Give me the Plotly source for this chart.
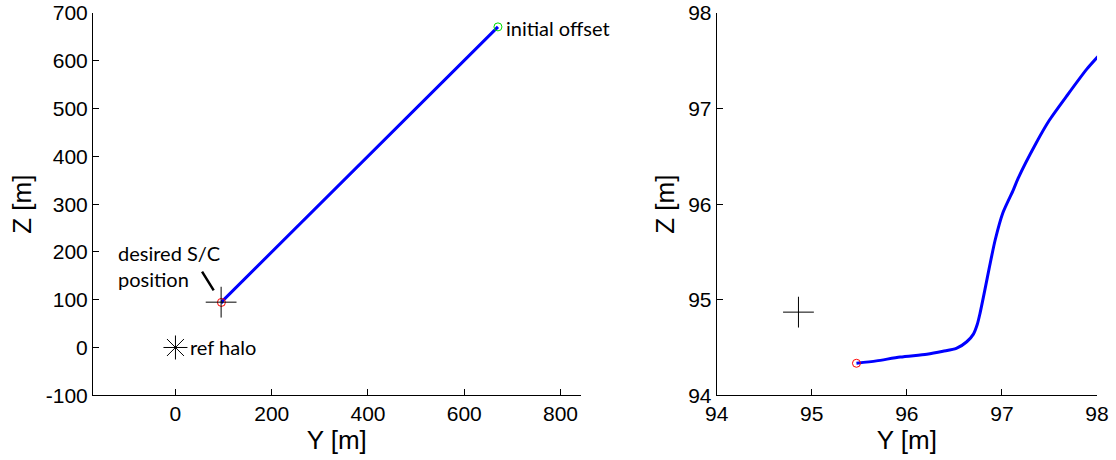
import plotly.graph_objects as go
from plotly.subplots import make_subplots

# Trajectory (Y, Z) in metres, from the end (desired position) back to the initial offset
traj_y = [95.47, 95.68, 95.93, 96.21, 96.38, 96.52, 96.63, 96.70, 96.74, 96.77, 96.82,
          96.87, 96.93, 97.01, 97.12, 97.17, 97.36, 97.50, 97.68, 97.89, 98.01,
          99.0, 670.0]
traj_z = [94.335, 94.36, 94.40, 94.43, 94.46, 94.49, 94.56, 94.64, 94.74, 94.86, 95.10,
          95.35, 95.63, 95.91, 96.15, 96.27, 96.64, 96.88, 97.13, 97.41, 97.545,
          98.6, 671.0]

initial_offset = (670.0, 671.0)
final_position = (95.47, 94.335)
desired_position = (94.86, 94.87)
ref_halo = (0.0, 0.0)

left_xticks = [0, 200, 400, 600, 800]
left_yticks = [-100, 0, 100, 200, 300, 400, 500, 600, 700]
left_yticklabels = ["-100", "0", "100", "200", "300", "400", "500", "600", "700"]
right_ticks = [94, 95, 96, 97, 98]

fig = make_subplots(rows=1, cols=2)

for col in (1, 2):
    fig.add_trace(go.Scatter(x=traj_y, y=traj_z, mode="lines",
                             line=dict(color="#0000FF", width=3, shape="spline", smoothing=0.7),
                             showlegend=False, hoverinfo="skip"), row=1, col=col)
    fig.add_trace(go.Scatter(x=[final_position[0]], y=[final_position[1]], mode="markers",
                             marker=dict(symbol="circle-open", size=8,
                                         line=dict(color="#FF0000", width=1), color="#FF0000"),
                             showlegend=False), row=1, col=col)
    fig.add_trace(go.Scatter(x=[desired_position[0]], y=[desired_position[1]], mode="markers",
                             marker=dict(symbol="cross-thin-open", size=22,
                                         line=dict(color="#000000", width=1), color="#000000"),
                             showlegend=False), row=1, col=col)

fig.add_trace(go.Scatter(x=[initial_offset[0]], y=[initial_offset[1]], mode="markers",
                         marker=dict(symbol="circle-open", size=8,
                                     line=dict(color="#00DD00", width=1), color="#00DD00"),
                         showlegend=False), row=1, col=1)
fig.add_trace(go.Scatter(x=[ref_halo[0]], y=[ref_halo[1]], mode="markers",
                         marker=dict(symbol="asterisk-open", size=20,
                                     line=dict(color="#000000", width=1), color="#000000"),
                         showlegend=False), row=1, col=1)

ann_font = dict(family="Lato, 'Open Sans', sans-serif", size=20, color="#000000")
fig.add_annotation(x=initial_offset[0], y=initial_offset[1], xref="x", yref="y",
                   text="initial offset", showarrow=False, xanchor="left", yanchor="middle",
                   xshift=6, yshift=-1, font=ann_font)
fig.add_annotation(x=ref_halo[0], y=ref_halo[1], xref="x", yref="y",
                   text="ref halo", showarrow=False, xanchor="left", yanchor="middle",
                   xshift=13, font=ann_font)
fig.add_annotation(x=desired_position[0], y=desired_position[1], xref="x", yref="y",
                   text="desired S/C<br>position", showarrow=False, xanchor="left",
                   yanchor="middle", align="left", xshift=-105, yshift=36, font=ann_font)
fig.add_annotation(x=desired_position[0], y=desired_position[1], xref="x", yref="y",
                   text="", showarrow=True, arrowhead=0, arrowwidth=2.5, arrowcolor="#000000",
                   ax=-20, ay=-32, standoff=14)

tick_font = dict(family="'Liberation Sans', Arial, sans-serif", size=21, color="#000000")
title_font = dict(family="'Liberation Sans', Arial, sans-serif", size=26, color="#000000")
axis_common = dict(showline=True, linecolor="#000000", linewidth=1, mirror=False,
                   ticks="inside", ticklen=6, tickcolor="#000000", showgrid=False,
                   zeroline=False, tickfont=tick_font, automargin=False)

fig.update_xaxes(range=[-171.4, 841.6], tickvals=left_xticks,
                 title=dict(text="Y [m]", font=title_font, standoff=6),
                 domain=[0.0833, 0.5202], row=1, col=1, **axis_common)
fig.update_yaxes(range=[-100, 700], tickvals=left_yticks, ticktext=left_yticklabels,
                 title=dict(text="Z [m]", font=title_font, standoff=6),
                 domain=[0.1407, 0.9717], row=1, col=1, **axis_common)
fig.update_xaxes(range=[94, 98], tickvals=right_ticks,
                 title=dict(text="Y [m]", font=title_font, standoff=6),
                 domain=[0.6422, 0.983], row=1, col=2, **axis_common)
fig.update_yaxes(range=[94, 98], tickvals=right_ticks,
                 title=dict(text="Z [m]", font=title_font, standoff=6),
                 domain=[0.1407, 0.9717], row=1, col=2, **axis_common)

fig.update_layout(width=1116, height=460, margin=dict(l=0, r=0, t=0, b=0),
                  paper_bgcolor="#FFFFFF", plot_bgcolor="#FFFFFF", showlegend=False)

fig.write_html("out.html")
